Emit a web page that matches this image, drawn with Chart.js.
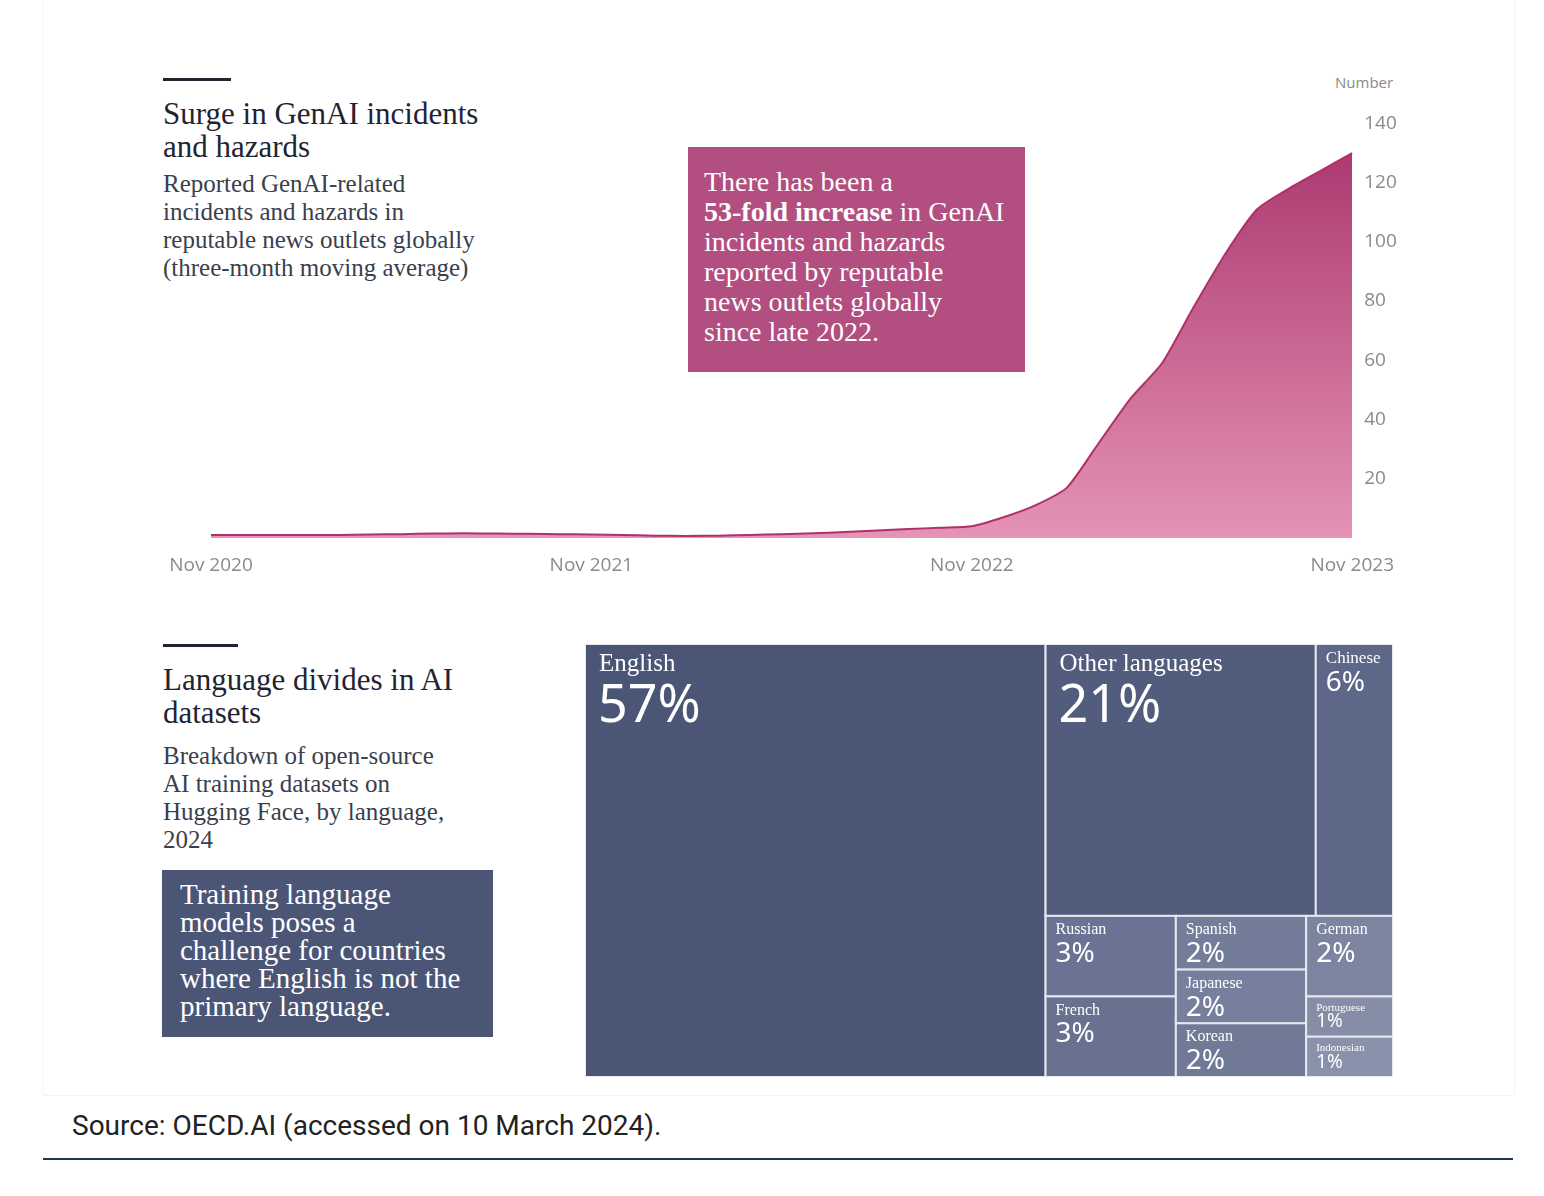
<!DOCTYPE html>
<html><head><meta charset="utf-8">
<script src="https://cdn.jsdelivr.net/npm/chart.js@4/dist/chart.umd.min.js"></script>
<style>
body{margin:0;width:1544px;height:1196px;background:#fff;position:relative;font-family:"Liberation Serif",serif;overflow:hidden}
.abs{position:absolute}
.t{font-size:31px;color:#1f2433;line-height:33px}
.s{font-size:25px;color:#3a3f4d;line-height:28px}
.rule{position:absolute;height:3px;background:#1f2433}
</style></head><body>
<div class="abs" style="left:43px;top:0;width:1470px;height:1095px;border:1px solid #f4f4f4;border-top:none"></div>
<div class="rule" style="left:163px;top:78px;width:68px"></div>
<div class="abs t" style="left:163px;top:97px">Surge in GenAI incidents<br>and hazards</div>
<div class="abs s" style="left:163px;top:170px">Reported GenAI-related<br>incidents and hazards in<br>reputable news outlets globally<br>(three-month moving average)</div>
<div class="abs" style="left:1335px;top:72px;font-family:'Open Sans';font-size:15px;color:#8a8a8a">Number</div>
<canvas id="c1" class="abs" width="1241" height="470" style="left:161px;top:108px;width:1241px;height:470px"></canvas>
<div class="abs" style="left:688px;top:147px;width:337px;height:225px;background:#b24e80;color:#fff;font-size:28px;line-height:30px;padding:20px 0 0 16px;box-sizing:border-box">There has been a<br><b>53-fold increase</b> in GenAI<br>incidents and hazards<br>reported by reputable<br>news outlets globally<br>since late 2022.</div>

<div class="rule" style="left:163px;top:644px;width:75px"></div>
<div class="abs t" style="left:163px;top:663px">Language divides in AI<br>datasets</div>
<div class="abs s" style="left:163px;top:742px">Breakdown of open-source<br>AI training datasets on<br>Hugging Face, by language,<br>2024</div>
<div class="abs" style="left:162px;top:870px;width:331px;height:167px;background:#4b5677;color:#fff;font-size:29px;line-height:28px;padding:10px 0 0 18px;box-sizing:border-box">Training language<br>models poses a<br>challenge for countries<br>where English is not the<br>primary language.</div>
<canvas id="c2" class="abs" width="808" height="433" style="left:585px;top:644px;width:808px;height:433px"></canvas>

<div class="abs" style="left:72px;top:1109px;font-family:Roboto;font-size:28px;color:#222">Source: OECD.AI (accessed on 10 March 2024).</div>
<div class="abs" style="left:43px;top:1158px;width:1470px;height:2px;background:#1f3556"></div>
<script>
const months=["Nov 2020","Dec 2020","Jan 2021","Feb 2021","Mar 2021","Apr 2021","May 2021","Jun 2021","Jul 2021","Aug 2021","Sep 2021","Oct 2021","Nov 2021","Dec 2021","Jan 2022","Feb 2022","Mar 2022","Apr 2022","May 2022","Jun 2022","Jul 2022","Aug 2022","Sep 2022","Oct 2022","Nov 2022","Dec 2022","Jan 2023","Feb 2023","Mar 2023","Apr 2023","May 2023","Jun 2023","Jul 2023","Aug 2023","Sep 2023","Oct 2023","Nov 2023"];
const incidents=[1,1,1,1,1,1.2,1.3,1.5,1.6,1.5,1.4,1.3,1.2,1,0.8,0.7,0.8,1,1.3,1.6,2,2.5,3,3.5,4,7,11,17,32,47,59,78,96,111,118,124,130];
const yTicks=[20,40,60,80,100,120,140];
const languages=["English","Other languages","Chinese","Russian","French","Spanish","Japanese","Korean","German","Portuguese","Indonesian"];
const shares=[57,21,6,3,3,2,2,2,2,1,1];
const tree={dir:"h",kids:[0,{dir:"v",kids:[{dir:"h",kids:[1,2]},{dir:"h",kids:[{dir:"v",kids:[3,4]},{dir:"v",kids:[5,6,7]},{dir:"v",kids:[8,9,10]}]}]}]};
const colors=["#4b5677","#525d7d","#5d6888","#6a7393","#68718f","#737c99","#767f9c","#707996","#7c849f","#868da7","#8a91aa"];

new Chart(document.getElementById('c1'),{type:'line',data:{labels:months,datasets:[{data:incidents,borderColor:'#b0306a',borderWidth:2,pointRadius:0,tension:0.2,fill:'origin',
 backgroundColor:(c)=>{const a=c.chart.chartArea;if(!a)return '#d46f9c';const g=c.chart.ctx.createLinearGradient(0,a.top,0,a.bottom);g.addColorStop(0,'#a8336b');g.addColorStop(1,'#e593b6');return g;}}]},
 options:{responsive:false,animation:false,devicePixelRatio:1,layout:{padding:{left:50,top:10,right:0,bottom:0}},plugins:{legend:{display:false},tooltip:{enabled:false}},
 scales:{x:{offset:false,grid:{display:false},border:{display:false},afterFit:s=>{s.height=40},ticks:{autoSkip:false,maxRotation:0,color:'#8a8a8a',font:{family:'Open Sans',size:19},padding:8,callback:function(v,i){return i%12===0?months[i]:''}}},
 y:{position:'right',min:0,max:140,grid:{display:false},border:{display:false},afterFit:s=>{s.width=45},afterBuildTicks:s=>{s.ticks=yTicks.map(v=>({value:v}))},ticks:{color:'#8a8a8a',font:{family:'Open Sans',size:19},padding:4}}}}});

const cells=[];
function lay(node,x0,y0,x1,y1){
 if(typeof node==='number'){cells.push({i:node,x0,y0,x1,y1});return;}
 const sum=n=>typeof n==='number'?shares[n]:n.kids.reduce((a,k)=>a+sum(k),0);
 const tot=sum(node);let p=node.dir==='h'?x0:y0;
 node.kids.forEach(k=>{const f=sum(k)/tot;if(node.dir==='h'){const w=(x1-x0)*f;lay(k,p,y0,p+w,y1);p+=w;}else{const h=(y1-y0)*f;lay(k,x0,p,x1,p+h);p+=h;}});
}
lay(tree,0,0,100,100);
const tm={id:'tm',afterDatasetsDraw(ch){const c=ch.ctx,X=ch.scales.x,Y=ch.scales.y;
 cells.forEach(r=>{const a=X.getPixelForValue(r.x0),b=X.getPixelForValue(r.x1),t=Y.getPixelForValue(r.y0),u=Y.getPixelForValue(r.y1);
  c.fillStyle=colors[r.i];c.fillRect(a,t,b-a,u-t);c.strokeStyle='#e6e8ee';c.lineWidth=2;c.strokeRect(a,t,b-a,u-t);
  const v=shares[r.i];
  const nameSize=v>=20?25:(v>=6?17:(v>=2?16:11)),pctSize=v>=20?52:(v>=6?28:(v>=2?28:19));
  const gap=v>=20?10:(v>=2?6:3);
  c.fillStyle='#fff';c.textBaseline='top';c.font=nameSize+'px "Liberation Serif"';c.fillText(languages[r.i],a+(v>=20?14:10),t+(v>=20?8:6));
  c.font=pctSize+'px "Noto Sans"';c.fillText(v+'%',a+(v>=20?13:10),t+(v>=20?8:6)+nameSize+gap-(v>=20?6:4));
 });}};
new Chart(document.getElementById('c2'),{type:'scatter',data:{datasets:[{data:[]}]},plugins:[tm],options:{responsive:false,animation:false,devicePixelRatio:1,layout:{padding:0},plugins:{legend:{display:false},tooltip:{enabled:false}},
 scales:{x:{display:false,min:0,max:100},y:{display:false,min:0,max:100,reverse:true}}}});
</script></body></html>
